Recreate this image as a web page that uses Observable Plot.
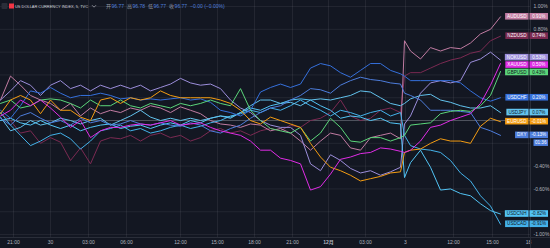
<!DOCTYPE html>
<html><head><meta charset="utf-8">
<script src="https://cdn.jsdelivr.net/npm/d3@7"></script>
<script src="https://cdn.jsdelivr.net/npm/@observablehq/plot@0.6"></script>
<style>
html,body{margin:0;padding:0;background:#131722;overflow:hidden;}
svg{display:block;}
</style></head><body><div id="chart"></div>
<script>
// ---- data (percent change) ----
const bars = d3.range(0, 401, 10).concat([404], d3.range(410, 501, 10));
const AUDUSD = [0.18,0.39,0.31,0.22,0.18,0.15,0.09,0.15,0.04,0.11,0.06,0.09,0.07,0.11,0.09,0.13,0.11,0.07,0.12,0.09,0.06,0,-0.03,-0.04,-0.06,-0.03,-0.04,-0.09,-0.07,-0.11,-0.18,-0.26,-0.18,-0.11,-0.13,-0.24,-0.26,-0.15,-0.13,-0.11,-0.16, 0.70,0.61,0.54,0.64,0.61,0.64,0.63,0.68,0.76,0.80,0.91];
const NZDUSD = [0.06,0,-0.11,-0.09,-0.20,-0.15,-0.19,-0.35,-0.24,-0.38,-0.18,-0.15,-0.16,-0.13,-0.18,-0.13,-0.11,-0.15,-0.13,-0.18,-0.15,-0.09,-0.07,-0.11,-0.09,-0.13,-0.09,-0.07,-0.09,-0.04,-0.06,0,0.02,0.07,0.18,0.04,0,0.02,0.09,0.11,0.07, 0.39,0.42,0.42,0.46,0.50,0.53,0.55,0.59,0.61,0.70,0.74];
const NOKUSD = [0.18,0.26,0.35,0.31,0.22,0.31,0.35,0.28,0.31,0.26,0.31,0.28,0.31,0.28,0.31,0.26,0.29,0.32,0.37,0.33,0.31,0.32,0.28,0.18,0.11,0.07,0,-0.04,-0.06,-0.06,-0.13,-0.38,-0.44,-0.30,-0.35,-0.42,-0.46,-0.44,-0.48,-0.45,-0.41, -0.03,0.04,0.24,0.33,0.35,0.33,0.35,0.51,0.54,0.60,0.53];
const XAUUSD = [0.04,0.09,0.18,0.13,0.18,0.11,0.03,-0.06,0,-0.15,-0.09,-0.06,-0.06,-0.04,-0.03,-0.04,-0.02,0,-0.04,-0.03,-0.02,-0.06,-0.09,-0.11,-0.13,-0.18,-0.26,-0.26,-0.33,-0.35,-0.38,-0.61,-0.58,-0.47,-0.34,-0.32,-0.29,-0.28,-0.24,-0.25,-0.27, -0.28,-0.26,-0.18,-0.06,-0.04,0,0.03,0.06,0.15,0.31,0.50];
const GBPUSD = [0.15,0.18,0.11,0.13,0.18,0.19,0.18,0.15,0.11,0.18,0.13,0.13,0.18,0.13,0.11,0.15,0.13,0.11,0.15,0.13,0.15,0.18,0.15,0.13,0.28,0.09,0,-0.07,-0.09,-0.11,-0.06,-0.18,-0.11,0.02,-0.06,-0.18,-0.19,-0.15,-0.15,-0.18,-0.15, -0.13,-0.04,-0.03,-0.02,0.06,0.08,0.09,0.08,0.13,0.22,0.43];
const USDCHF = [0.09,0.02,0.13,0.26,0.24,0.29,0.24,0.20,0.22,0.22,0.24,0.22,0.19,0.20,0.18,0.19,0.18,0.19,0.20,0.18,0.19,0.16,0.09,0.07,0.04,0.09,0.25,0.29,0.32,0.29,0.32,0.46,0.50,0.48,0.42,0.38,0.44,0.50,0.50,0.44,0.41, 0.39,0.35,0.35,0.35,0.35,0.35,0.33,0.26,0.20,0.17,0.20];
const USDJPY = [0.03,-0.09,-0.06,0,-0.04,-0.02,0.02,0,-0.03,0,0.02,-0.04,0,0.04,0.09,0.03,0,0.02,0,0.02,0,0.02,0.04,0.02,0.07,0.13,0.18,0.18,0.15,0.16,0.13,0.18,0.19,0.18,0.20,0.22,0.26,0.25,0.20,0.15,0.13, 0.15,0.19,0.22,0.23,0.18,0.16,0.13,0.11,0.11,0.13,0.07];
const EURUSD = [0.06,0.18,0.22,0.18,0.06,0.18,0.09,0.09,0.03,0,0.18,0.20,0.15,0.20,0.18,0.20,0.26,0.22,0.20,0.20,0.20,0.20,0.18,0.15,0.09,0,-0.03,0.03,0,-0.03,-0.06,-0.20,-0.32,-0.41,-0.44,-0.48,-0.53,-0.51,-0.49,-0.46,-0.45, -0.28,-0.26,-0.25,-0.20,-0.16,-0.18,-0.18,-0.20,-0.05,0.02,-0.01];
const DXY = [0.02,-0.04,0.04,0.07,0.02,-0.02,0,-0.04,0.02,-0.02,0,-0.04,-0.03,0,-0.03,-0.04,-0.02,-0.04,-0.05,-0.02,-0.04,-0.09,-0.11,-0.07,-0.04,0.02,0.07,0.11,0.13,0.18,0.22,0.28,0.27,0.24,0.31,0.35,0.38,0.36,0.35,0.33,0.32, 0.24,0.22,0.18,0.09,0.09,0.09,0.08,0.07,-0.06,-0.09,-0.13];
const USDCNH = [0,0.02,-0.02,-0.04,0,-0.04,-0.07,-0.04,-0.09,-0.06,-0.04,-0.03,-0.07,-0.05,-0.04,-0.07,-0.04,-0.02,-0.04,0,-0.02,0.02,0.04,0.03,0.07,0.11,0.09,0.13,0.15,0.18,0.19,0.18,0.13,0.09,0.02,0.04,0.03,0,0.02,-0.02,-0.03, -0.50,-0.37,-0.26,-0.41,-0.61,-0.60,-0.64,-0.66,-0.73,-0.79,-0.82];
const USDCAD = [0.07,-0.04,-0.13,-0.22,-0.18,-0.13,-0.11,-0.16,-0.25,-0.18,-0.09,-0.07,-0.04,-0.09,-0.07,-0.11,-0.09,-0.06,-0.04,-0.07,-0.05,-0.02,0,0.04,0.06,0.09,0.07,0.11,0.09,0.13,0.18,0.13,0.09,0.04,0.09,0.07,0.04,0.07,0.09,0.04,0.07, -0.13,-0.22,-0.25,-0.26,-0.28,-0.35,-0.46,-0.53,-0.66,-0.75,-0.91];

const symbols = ["NZDUSD","AUDUSD","NOKUSD","USDCAD","USDCNH","USDJPY","DXY","USDCHF","GBPUSD","EURUSD","XAUUSD"];
const colors  = ["#7b2a52","#c17ca2","#9c8edb","#44b2ea","#52c4f5","#62c3ee","#4d7ddc","#3570dc","#5bd67a","#f39c12","#e02ce6"];
const darkText = ["GBPUSD","USDJPY","USDCNH","USDCAD"];

const tickBars   = [13, 50, 88, 126, 180, 217, 254, 292, 328, 365, 405, 453, 492, 528];
const tickLabels = ["21:00","30","03:00","06:00","12:00","15:00","18:00","21:00","12月","03:00","3","12:00","15:00","18"];
const yTicks = [1, 0.8, 0.6, 0.4, 0.2, 0, -0.2, -0.4, -0.6, -0.8, -1];

const title = "US DOLLAR CURRENCY INDEX, 5, TVC";
const ohlcLabels = ["开","高","低","收"];
const ohlcValues = ["96.77","96.78","96.77","96.77"];
const changeText = "−0.00 (−0.00%)";
const countdown = "01:36";

const series = {AUDUSD, NZDUSD, NOKUSD, XAUUSD, GBPUSD, USDCHF, USDJPY, EURUSD, DXY, USDCNH, USDCAD};
const rows = symbols.flatMap(s => series[s].map((v, i) => ({bar: bars[i], value: v, symbol: s})));

const FONT = '"Liberation Sans", Arial, "Noto Sans CJK SC", sans-serif';

const plot = Plot.plot({
  width: 550, height: 248,
  marginLeft: 0, marginRight: 20, marginTop: 0, marginBottom: 11,
  style: {background: "#131722", color: "#b2b5be", fontSize: "5px", fontFamily: FONT, overflow: "visible"},
  x: {domain: [0, 530], ticks: tickBars, tickFormat: d => tickLabels[tickBars.indexOf(d)], tickSize: 0, tickPadding: 3, label: null, grid: true},
  y: {domain: [-1.026, 1.053], axis: "right", ticks: yTicks, tickFormat: d => d.toFixed(2) + "%", tickSize: 0, tickPadding: 3, label: null, grid: true},
  color: {domain: symbols, range: colors},
  marks: [
    Plot.ruleY([0], {stroke: "#50545f", strokeWidth: 1}),
    Plot.line(rows, {x: "bar", y: "value", z: "symbol", stroke: "symbol", strokeWidth: 1})
  ]
});
document.getElementById("chart").append(plot);

const svg = d3.select(plot);
svg.selectAll("text").filter(function(){ return this.textContent === "12月"; }).attr("font-weight", "bold");

// separators
svg.append("line").attr("x1", 0).attr("x2", 550).attr("y1", 237.5).attr("y2", 237.5).attr("stroke", "#2a2e39");
svg.append("line").attr("x1", 530.5).attr("x2", 530.5).attr("y1", 0).attr("y2", 248).attr("stroke", "#2a2e39");

// tags at last values
const yS = plot.scale("y");
const tags = symbols.map((s, i) => ({name: s, value: series[s][series[s].length - 1], color: colors[i]}));
tags.forEach(t => t.py = yS.apply(t.value));
tags.sort((a, b) => a.py - b.py);
const gap = 7.4;
for (let k = 0; k < 200; k++) {
  for (let i = 1; i < tags.length; i++) {
    const d = tags[i].py - tags[i - 1].py;
    if (d < gap) { const m = (gap - d) / 2; tags[i].py += m; tags[i - 1].py -= m; }
  }
}
const h = 6.6;
const bands = tags.map(t => [t.py - h / 2, t.py + h / 2]);
const dxyTag = tags.find(t => t.name === "DXY");
bands.push([dxyTag.py + 7.8 - h / 2, dxyTag.py + 7.8 + h / 2]);
// hide price-scale tick labels that sit beneath a tag (as on the reference)
yTicks.forEach(v => {
  const py = yS.apply(v);
  if (bands.some(([a, b]) => py > a - 2.5 && py < b + 2.5)) {
    svg.selectAll("g[aria-label='y-axis tick label'] text, g[aria-label='y-axis'] text")
      .filter(function(){ return this.textContent === v.toFixed(2) + "%"; }).remove();
  }
});

const tg = svg.append("g").attr("font-family", FONT).attr("font-size", 4.6).attr("text-anchor", "start");
for (const t of tags) {
  const tc = darkText.includes(t.name) ? "#131722" : "#ffffff";
  const g = tg.append("g");
  const nameRect = g.append("rect");
  const nameText = g.append("text").attr("x", 526.5).attr("y", t.py).attr("dy", "0.35em")
    .attr("text-anchor", "end").attr("fill", tc).text(t.name);
  const w = nameText.node().getComputedTextLength();
  nameRect.attr("x", 528.5 - w - 4).attr("y", t.py - h / 2).attr("width", w + 4).attr("height", h).attr("fill", t.color);
  g.append("rect").attr("x", 529.5).attr("y", t.py - h / 2).attr("width", 18.5).attr("height", h).attr("fill", t.color);
  g.append("text").attr("x", 538.8).attr("y", t.py).attr("dy", "0.35em").attr("text-anchor", "middle")
    .attr("fill", tc).text(t.value.toFixed(2) + "%");
  if (t.name === "DXY") {
    const cy = t.py + 7.8;
    g.append("rect").attr("x", 533.5).attr("y", cy - h / 2).attr("width", 14.5).attr("height", h).attr("fill", t.color);
    g.append("text").attr("x", 540.7).attr("y", cy).attr("dy", "0.35em").attr("text-anchor", "middle")
      .attr("fill", "#ffffff").text(countdown);
  }
}

// header
const hdr = svg.append("g").attr("font-family", FONT).attr("font-size", 5).attr("text-anchor", "start");
hdr.append("rect").attr("x", 1.5).attr("y", 3).attr("width", 6).attr("height", 6).attr("rx", 1).attr("fill", "#2a2e39");
hdr.append("rect").attr("x", 9).attr("y", 3.5).attr("width", 5).attr("height", 5).attr("fill", "#f23645");
hdr.append("text").attr("x", 15).attr("y", 8).attr("fill", "#d1d4dc").attr("font-size", 4.2)
  .attr("textLength", 73).attr("lengthAdjust", "spacingAndGlyphs").text(title);
// small dropdown chevron icon
hdr.append("path").attr("d", "M92,5.2 L94,7.2 L96,5.2").attr("fill", "none").attr("stroke", "#b2b5be").attr("stroke-width", 0.7);
const ht = hdr.append("text").attr("x", 106).attr("y", 8);
ohlcLabels.forEach((l, i) => {
  ht.append("tspan").attr("fill", "#9598a1").attr("dx", i === 0 ? 0 : 3).text(l);
  ht.append("tspan").attr("fill", "#4f7fdd").attr("dx", 0.5).text(ohlcValues[i]);
});
ht.append("tspan").attr("fill", "#4f7fdd").attr("dx", 3).text(changeText);
</script>
</body></html>
